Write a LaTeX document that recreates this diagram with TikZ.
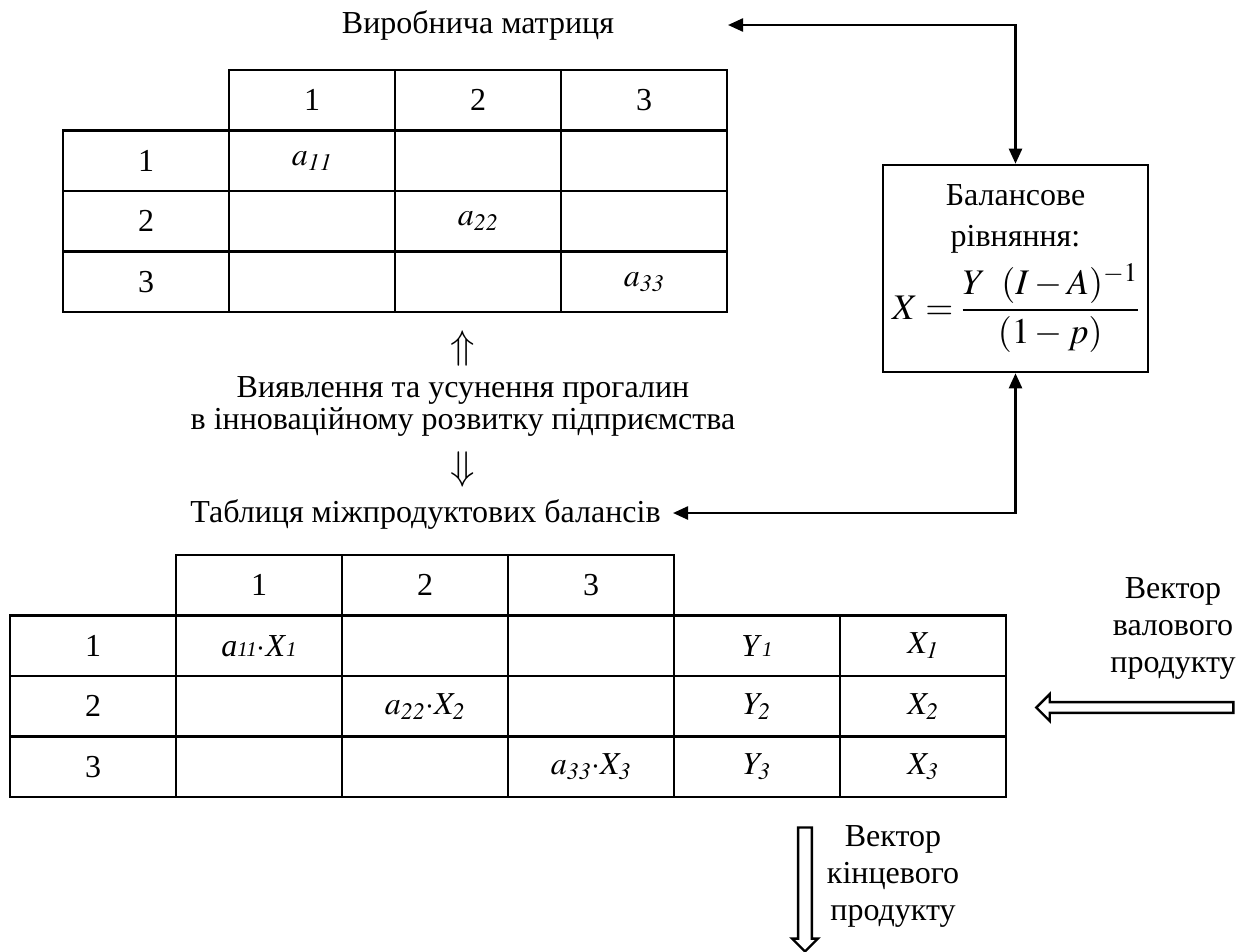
\documentclass[tikz,border=0pt]{standalone}
\usepackage{amsmath}
\usepackage{mathptmx}
\usepackage[no-math]{fontspec}
\setmainfont{Liberation Serif}
\usetikzlibrary{arrows.meta,positioning,shapes.arrows}

\newcommand{\lowidx}[1]{{\fontsize{21}{21}\selectfont\itshape #1}}

\begin{document}
\begin{tikzpicture}[
  x=1pt, y=-1pt,
  every node/.style={font=\fontsize{32}{37}\selectfont, align=center},
  cell/.style={rectangle, draw, line width=2.6pt, minimum width=166pt, minimum height=60.5pt, inner sep=0pt, outer sep=0pt},
  heading/.style={inner sep=0pt},
  frame/.style={rectangle, draw, line width=2.6pt, minimum width=265pt, minimum height=207pt, inner sep=0pt},
  link/.style={draw, line width=2.4pt, {Triangle[length=15pt,width=13pt]}-{Triangle[length=15pt,width=13pt]}},
  hollow/.style={single arrow, draw, line width=2.4pt, single arrow head extend=8pt, inner sep=4.2pt},
  sign/.style={inner sep=0pt, font=\fontsize{40}{40}\selectfont}
]
  \useasboundingbox (0,0) rectangle (1239,951);

  % production matrix
  \node[heading, anchor=base] (mtitle) at (478,33) {Виробнича матриця};
  \node[cell] (mh1) at (312,100.25) {1};
  \node[cell, right=0pt of mh1] (mh2) {2};
  \node[cell, right=0pt of mh2] (mh3) {3};
  \node[cell, below left=0pt and 0pt of mh1] (mr1) {1};
  \node[cell, right=0pt of mr1] (m11) {$a_{\mathit{11}}$};
  \node[cell, right=0pt of m11] (m12) {};
  \node[cell, right=0pt of m12] (m13) {};
  \node[cell, below=0pt of mr1] (mr2) {2};
  \node[cell, right=0pt of mr2] (m21) {};
  \node[cell, right=0pt of m21] (m22) {$a_{\mathit{22}}$};
  \node[cell, right=0pt of m22] (m23) {};
  \node[cell, below=0pt of mr2] (mr3) {3};
  \node[cell, right=0pt of mr3] (m31) {};
  \node[cell, right=0pt of m31] (m32) {};
  \node[cell, right=0pt of m32] (m33) {$a_{\mathit{33}}$};

  \node[sign] (upsign) at (463,348) {$\Uparrow$};
  \node[heading, font=\fontsize{32}{32}\selectfont] (gap) at (463,406) {Виявлення та усунення прогалин\\в інноваційному розвитку підприємства};
  \node[sign] (downsign) at (463,469) {$\Downarrow$};

  % balance equation
  \node[frame] (balance) at (1015.5,268.5) {Балансове\\[4pt]рівняння:\\[10pt]{\fontsize{36}{40}\selectfont$X=\dfrac{Y\;\;(I-A)^{-1}}{(1-p)}$}};

  % inter-product balance table
  \node[heading, anchor=base] (ttitle) at (425.5,522) {Таблиця міжпродуктових балансів};
  \node[cell] (bh1) at (259,585.25) {1};
  \node[cell, right=0pt of bh1] (bh2) {2};
  \node[cell, right=0pt of bh2] (bh3) {3};
  \node[cell, below left=0pt and 0pt of bh1] (br1) {1};
  \node[cell, right=0pt of br1] (b11) {\textit{a}\lowidx{11}$\cdot$\textit{X}\lowidx{1}};
  \node[cell, right=0pt of b11] (b12) {};
  \node[cell, right=0pt of b12] (b13) {};
  \node[cell, right=0pt of b13] (b14) {\textit{Y}\lowidx{1}};
  \node[cell, right=0pt of b14] (b15) {$X_{\mathit 1}$};
  \node[cell, below=0pt of br1] (br2) {2};
  \node[cell, right=0pt of br2] (b21) {};
  \node[cell, right=0pt of b21] (b22) {$a_{\mathit{22}}{\cdot}X_{\mathit 2}$};
  \node[cell, right=0pt of b22] (b23) {};
  \node[cell, right=0pt of b23] (b24) {$Y_{\mathit 2}$};
  \node[cell, right=0pt of b24] (b25) {$X_{\mathit 2}$};
  \node[cell, below=0pt of br2] (br3) {3};
  \node[cell, right=0pt of br3] (b31) {};
  \node[cell, right=0pt of b31] (b32) {};
  \node[cell, right=0pt of b32] (b33) {$a_{\mathit{33}}{\cdot}X_{\mathit 3}$};
  \node[cell, right=0pt of b33] (b34) {$Y_{\mathit 3}$};
  \node[cell, right=0pt of b34] (b35) {$X_{\mathit 3}$};

  % vectors
  \node (grosstext) at (1173,628) {Вектор\\валового\\продукту};
  \node[hollow, minimum height=197pt, shape border rotate=180] (grossarrow) at (1137.5,707.5) {};
  \node (nettext) at (893,876) {Вектор\\кінцевого\\продукту};
  \node[hollow, minimum height=124pt, inner sep=5.7pt, single arrow head extend=6pt, shape border rotate=270] (netarrow) at (805,886) {};

  \coordinate (mtip) at (728,25);
  \coordinate (btip) at (673,513);
  \draw[link] (mtip) -| (balance.north);
  \draw[link] (btip) -| (balance.south);
\end{tikzpicture}
\end{document}
